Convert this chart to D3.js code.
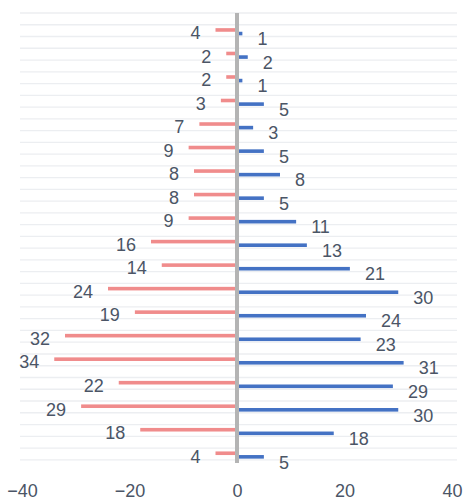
<!DOCTYPE html>
<html>
<head>
<meta charset="utf-8">
<script src="https://cdn.jsdelivr.net/npm/d3@7"></script>
<style>
  html, body { margin: 0; padding: 0; background: #ffffff; }
  svg { display: block; }
</style>
</head>
<body>
<div id="chart"></div>
<script>
// ---- data (top row first) ----
const categories = ["r1","r2","r3","r4","r5","r6","r7","r8","r9","r10","r11","r12","r13","r14","r15","r16","r17","r18","r19"];
const leftValues  = [4, 2, 2, 3, 7, 9, 8, 8, 9, 16, 14, 24, 19, 32, 34, 22, 29, 18, 4];
const rightValues = [1, 2, 1, 5, 3, 5, 8, 5, 11, 13, 21, 30, 24, 23, 31, 29, 30, 18, 5];
const xTicks = [-40, -20, 0, 20, 40];

const W = 466, H = 501;
const svg = d3.select("#chart").append("svg").attr("width", W).attr("height", H);

const x = d3.scaleLinear().domain([-40, 40]).range([22, 452]);
const y = d3.scaleBand().domain(categories).range([20.2, 467]).paddingInner(0).paddingOuter(0);

const textColor = "#4b5566";
const font = "'Liberation Sans', Arial, sans-serif";

// gridlines (two per category row)
const half = y.step() / 2;
const gridYs = d3.range(categories.length * 2 + 1).map(i => y.range()[0] - 7.2 + i * half);
svg.append("g").selectAll("line").data(gridYs).join("line")
  .attr("x1", x(-40) - 2).attr("x2", x(40) + 5)
  .attr("y1", d => d).attr("y2", d => d)
  .attr("stroke", "#eceef1").attr("stroke-width", 1.3);

const c = d => y(d) + y.bandwidth() / 2;
const barH = 3.6;

// left (negative) bars
svg.append("g").selectAll("rect").data(categories).join("rect")
  .attr("x", (d, i) => x(-leftValues[i]))
  .attr("width", (d, i) => x(0) - x(-leftValues[i]))
  .attr("y", d => c(d) - 2 - barH / 2)
  .attr("height", barH)
  .attr("fill", "#f08c8c");

// right bars
svg.append("g").selectAll("rect").data(categories).join("rect")
  .attr("x", x(0))
  .attr("width", (d, i) => x(rightValues[i]) - x(0))
  .attr("y", d => c(d) + 1.6 - barH / 2)
  .attr("height", barH)
  .attr("fill", "#4472c4");

// center axis line
svg.append("line")
  .attr("x1", x(0)).attr("x2", x(0))
  .attr("y1", 13).attr("y2", 463)
  .attr("stroke", "#b4b4b4").attr("stroke-width", 4);

// labels
svg.append("g").selectAll("text").data(categories).join("text")
  .attr("x", (d, i) => x(-leftValues[i]) - 15)
  .attr("y", d => c(d) + 1)
  .attr("dy", "0.35em")
  .attr("text-anchor", "end")
  .attr("font-family", font).attr("font-size", 18)
  .attr("fill", textColor)
  .text((d, i) => leftValues[i]);

svg.append("g").selectAll("text").data(categories).join("text")
  .attr("x", (d, i) => x(rightValues[i]) + 15)
  .attr("y", d => c(d) + 7)
  .attr("dy", "0.35em")
  .attr("text-anchor", "start")
  .attr("font-family", font).attr("font-size", 18)
  .attr("fill", textColor)
  .text((d, i) => rightValues[i]);

// x axis
const axis = d3.axisBottom(x).tickValues(xTicks).tickSize(0).tickPadding(0).tickFormat(d3.format("d"));
const ax = svg.append("g").attr("transform", "translate(0,484)").call(axis);
ax.select(".domain").remove();
ax.selectAll("text")
  .attr("font-family", font).attr("font-size", 18)
  .attr("fill", textColor).attr("dy", "0.71em").attr("y", 0);
</script>
</body>
</html>
